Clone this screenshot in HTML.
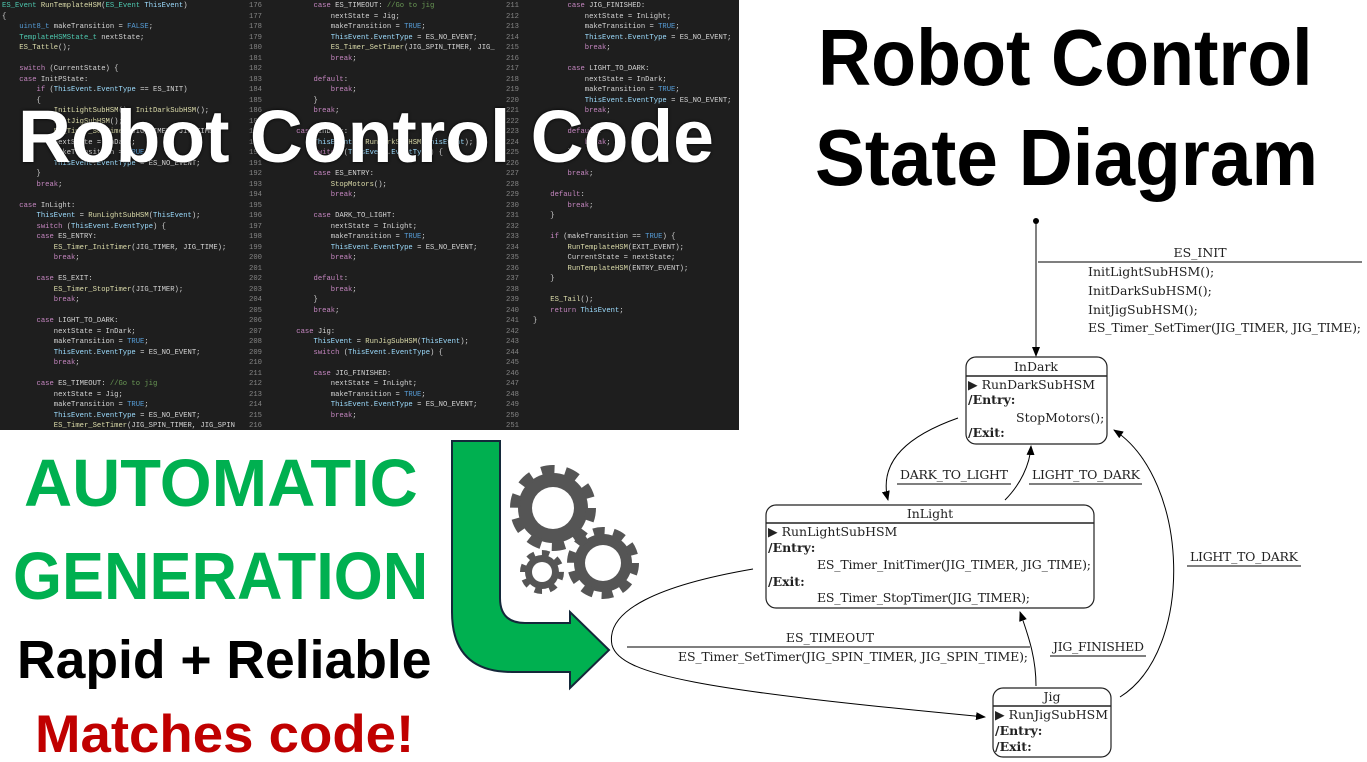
<!DOCTYPE html>
<html><head><meta charset="utf-8">
<style>
html,body{margin:0;padding:0;background:#fff;width:1367px;height:762px;overflow:hidden;position:relative}
#code{position:absolute;left:0;top:0;width:739px;height:430px;background:#1e1e1e;overflow:hidden}
.col{position:absolute;top:1px;margin:0;font-family:"Liberation Mono",monospace;font-size:7.2px;line-height:10.5px;color:#d4d4d4;white-space:pre}
.ln{color:#858585;text-align:right;width:14px}
.t{position:absolute;font-family:"Liberation Sans",sans-serif;font-weight:bold;line-height:1;white-space:nowrap;transform-origin:0 0}
svg text{font-family:"DejaVu Serif",serif;font-size:12.5px;fill:#222}
</style></head><body>
<div id="code">
<pre class="col" style="left:2px" id="c1">ES_Event RunTemplateHSM(ES_Event ThisEvent)
{
    uint8_t makeTransition = FALSE;
    TemplateHSMState_t nextState;
    ES_Tattle();

    switch (CurrentState) {
    case InitPState:
        if (ThisEvent.EventType == ES_INIT)
        {
            InitLightSubHSM(); InitDarkSubHSM();
            InitJigSubHSM();
            ES_Timer_SetTimer(JIG_TIMER, JIG_TIME);
            nextState = InDark;
            makeTransition = TRUE;
            ThisEvent.EventType = ES_NO_EVENT;
        }
        break;

    case InLight:
        ThisEvent = RunLightSubHSM(ThisEvent);
        switch (ThisEvent.EventType) {
        case ES_ENTRY:
            ES_Timer_InitTimer(JIG_TIMER, JIG_TIME);
            break;

        case ES_EXIT:
            ES_Timer_StopTimer(JIG_TIMER);
            break;

        case LIGHT_TO_DARK:
            nextState = InDark;
            makeTransition = TRUE;
            ThisEvent.EventType = ES_NO_EVENT;
            break;

        case ES_TIMEOUT: //Go to jig
            nextState = Jig;
            makeTransition = TRUE;
            ThisEvent.EventType = ES_NO_EVENT;
            ES_Timer_SetTimer(JIG_SPIN_TIMER, JIG_SPIN</pre>
<pre class="col ln" style="left:248px">176
177
178
179
180
181
182
183
184
185
186
187
188
189
190
191
192
193
194
195
196
197
198
199
200
201
202
203
204
205
206
207
208
209
210
211
212
213
214
215
216</pre>
<pre class="col" style="left:279px" id="c2">        case ES_TIMEOUT: //Go to jig
            nextState = Jig;
            makeTransition = TRUE;
            ThisEvent.EventType = ES_NO_EVENT;
            ES_Timer_SetTimer(JIG_SPIN_TIMER, JIG_
            break;

        default:
            break;
        }
        break;

    case InDark:
        ThisEvent = RunDarkSubHSM(ThisEvent);
        switch (ThisEvent.EventType) {

        case ES_ENTRY:
            StopMotors();
            break;

        case DARK_TO_LIGHT:
            nextState = InLight;
            makeTransition = TRUE;
            ThisEvent.EventType = ES_NO_EVENT;
            break;

        default:
            break;
        }
        break;

    case Jig:
        ThisEvent = RunJigSubHSM(ThisEvent);
        switch (ThisEvent.EventType) {

        case JIG_FINISHED:
            nextState = InLight;
            makeTransition = TRUE;
            ThisEvent.EventType = ES_NO_EVENT;
            break;
</pre>
<pre class="col ln" style="left:505px">211
212
213
214
215
216
217
218
219
220
221
222
223
224
225
226
227
228
229
230
231
232
233
234
235
236
237
238
239
240
241
242
243
244
245
246
247
248
249
250
251</pre>
<pre class="col" style="left:533px" id="c3">        case JIG_FINISHED:
            nextState = InLight;
            makeTransition = TRUE;
            ThisEvent.EventType = ES_NO_EVENT;
            break;

        case LIGHT_TO_DARK:
            nextState = InDark;
            makeTransition = TRUE;
            ThisEvent.EventType = ES_NO_EVENT;
            break;

        default:
            break;
        }

        break;

    default:
        break;
    }

    if (makeTransition == TRUE) {
        RunTemplateHSM(EXIT_EVENT);
        CurrentState = nextState;
        RunTemplateHSM(ENTRY_EVENT);
    }

    ES_Tail();
    return ThisEvent;
}</pre>
<div class="t" style="left:18px;top:100px;font-size:74px;color:#fff;transform:scaleX(0.99);text-shadow:0 0 3px #000">Robot Control Code</div>
</div>

<div class="t" style="left:818px;top:18px;font-size:80px;color:#000;transform:scaleX(0.92)">Robot Control</div>
<div class="t" style="left:815px;top:118px;font-size:80px;color:#000;transform:scaleX(0.935)">State Diagram</div>

<div class="t" style="left:24px;top:450px;font-size:67px;color:#00b050;transform:scaleX(0.995)">AUTOMATIC</div>
<div class="t" style="left:13px;top:543px;font-size:67px;color:#00b050;transform:scaleX(0.94)">GENERATION</div>
<div class="t" style="left:17px;top:633px;font-size:54px;color:#000;transform:scaleX(0.99)">Rapid + Reliable</div>
<div class="t" style="left:35px;top:708px;font-size:53px;color:#c00000;transform:scaleX(1.03)">Matches code!</div>

<svg width="1367" height="762" style="position:absolute;left:0;top:0">
<defs>
<marker id="ah" markerWidth="10" markerHeight="8" refX="9" refY="4" orient="auto" markerUnits="userSpaceOnUse">
<path d="M0,0 L10,4 L0,8 Z" fill="#000"/></marker>
</defs>
<!-- green arrow -->
<path d="M452,441 L500,441 L500,598 Q500,623 525,623 L570,623 L570,612 L609,650 L570,688 L570,672 L512,672 Q452,672 452,612 Z" fill="#00b050" stroke="#14283a" stroke-width="2"/>
<!-- gears -->
<g fill="#555">
<circle cx="553" cy="508" r="35"/>
<circle cx="553" cy="508" r="38" fill="none" stroke="#555" stroke-width="10" stroke-dasharray="13 10.9"/>
<circle cx="603" cy="563" r="29"/>
<circle cx="603" cy="563" r="31" fill="none" stroke="#555" stroke-width="10" stroke-dasharray="11 8.5"/>
<circle cx="542" cy="572" r="17"/>
<circle cx="542" cy="572" r="18" fill="none" stroke="#555" stroke-width="8" stroke-dasharray="7 7.1"/>
</g>
<g fill="#fff"><circle cx="553" cy="508" r="21"/><circle cx="603" cy="563" r="18"/><circle cx="542" cy="572" r="10"/></g>

<!-- diagram -->
<g stroke="#222" fill="none" stroke-width="1.2">
<rect x="966" y="357" width="141" height="87" rx="10" fill="#fff"/>
<line x1="966" y1="376" x2="1107" y2="376" stroke-width="1.5"/>
<rect x="766" y="505" width="328" height="103" rx="10" fill="#fff"/>
<line x1="766" y1="523" x2="1094" y2="523" stroke-width="1.5"/>
<rect x="993" y="688" width="118" height="69" rx="10" fill="#fff"/>
<line x1="993" y1="706" x2="1111" y2="706" stroke-width="1.5"/>
</g>
<circle cx="1036" cy="221" r="3" fill="#000"/>
<g stroke="#000" fill="none" stroke-width="1">
<path d="M1036,221 L1036,356" marker-end="url(#ah)"/>
<path d="M958,418 C910,435 878,460 888,500" marker-end="url(#ah)"/>
<path d="M1005,500 C1020,485 1030,465 1031,446" marker-end="url(#ah)"/>
<path d="M1120,697 C1195,650 1190,480 1114,430" marker-end="url(#ah)"/>
<path d="M1036,686 C1036,660 1030,640 1020,612" marker-end="url(#ah)"/>
<path d="M753,569 C660,585 605,610 612,645 C620,675 700,690 985,717" marker-end="url(#ah)"/>
</g>
<g stroke="#333" stroke-width="1.2">
<line x1="1038" y1="262" x2="1362" y2="262"/>
<line x1="897" y1="484" x2="1011" y2="484"/>
<line x1="1029" y1="484" x2="1142" y2="484"/>
<line x1="1187" y1="566" x2="1301" y2="566"/>
<line x1="1050" y1="656" x2="1146" y2="656"/>
<line x1="627" y1="647" x2="1030" y2="647"/>
</g>
<text x="1200" y="257" text-anchor="middle">ES_INIT</text>
<text x="1088" y="276">InitLightSubHSM();</text>
<text x="1088" y="295">InitDarkSubHSM();</text>
<text x="1088" y="314">InitJigSubHSM();</text>
<text x="1088" y="332" textLength="273">ES_Timer_SetTimer(JIG_TIMER, JIG_TIME);</text>

<text x="1036" y="371" text-anchor="middle">InDark</text>
<text x="968" y="389">▶ RunDarkSubHSM</text>
<text x="968" y="404" font-weight="bold">/Entry:</text>
<text x="1016" y="422">StopMotors();</text>
<text x="968" y="437" font-weight="bold">/Exit:</text>

<text x="900" y="479" textLength="108">DARK_TO_LIGHT</text>
<text x="1032" y="479" textLength="108">LIGHT_TO_DARK</text>
<text x="1190" y="561" textLength="108">LIGHT_TO_DARK</text>
<text x="1053" y="651" textLength="91">JIG_FINISHED</text>

<text x="930" y="518" text-anchor="middle">InLight</text>
<text x="768" y="536">▶ RunLightSubHSM</text>
<text x="768" y="552" font-weight="bold">/Entry:</text>
<text x="817" y="569" textLength="274">ES_Timer_InitTimer(JIG_TIMER, JIG_TIME);</text>
<text x="768" y="586" font-weight="bold">/Exit:</text>
<text x="817" y="602" textLength="213">ES_Timer_StopTimer(JIG_TIMER);</text>

<text x="830" y="642" text-anchor="middle">ES_TIMEOUT</text>
<text x="678" y="661" textLength="350">ES_Timer_SetTimer(JIG_SPIN_TIMER, JIG_SPIN_TIME);</text>

<text x="1052" y="701" text-anchor="middle">Jig</text>
<text x="995" y="719">▶ RunJigSubHSM</text>
<text x="995" y="735" font-weight="bold">/Entry:</text>
<text x="995" y="751" font-weight="bold">/Exit:</text>
</svg>
<script>
(function(){
var re=/(\/\/.*)|\b(case|break|switch|if|default|return)\b|\b(TRUE|FALSE|uint8_t)\b|\b(ES_Event|TemplateHSMState_t)\b|\b(\w+)(?=\()|\b(ThisEvent|EventType)\b/g;
["c1","c2","c3"].forEach(function(id){
var el=document.getElementById(id);
var s=el.textContent.replace(/&/g,"&amp;").replace(/</g,"&lt;");
s=s.replace(re,function(m,a,b,c,d,e,f){
var col=a?"#6a9955":b?"#c586c0":c?"#569cd6":d?"#4ec9b0":e?"#dcdcaa":"#9cdcfe";
return '<span style="color:'+col+'">'+m+'</span>';});
el.innerHTML=s;});
})();
</script>
</body></html>
